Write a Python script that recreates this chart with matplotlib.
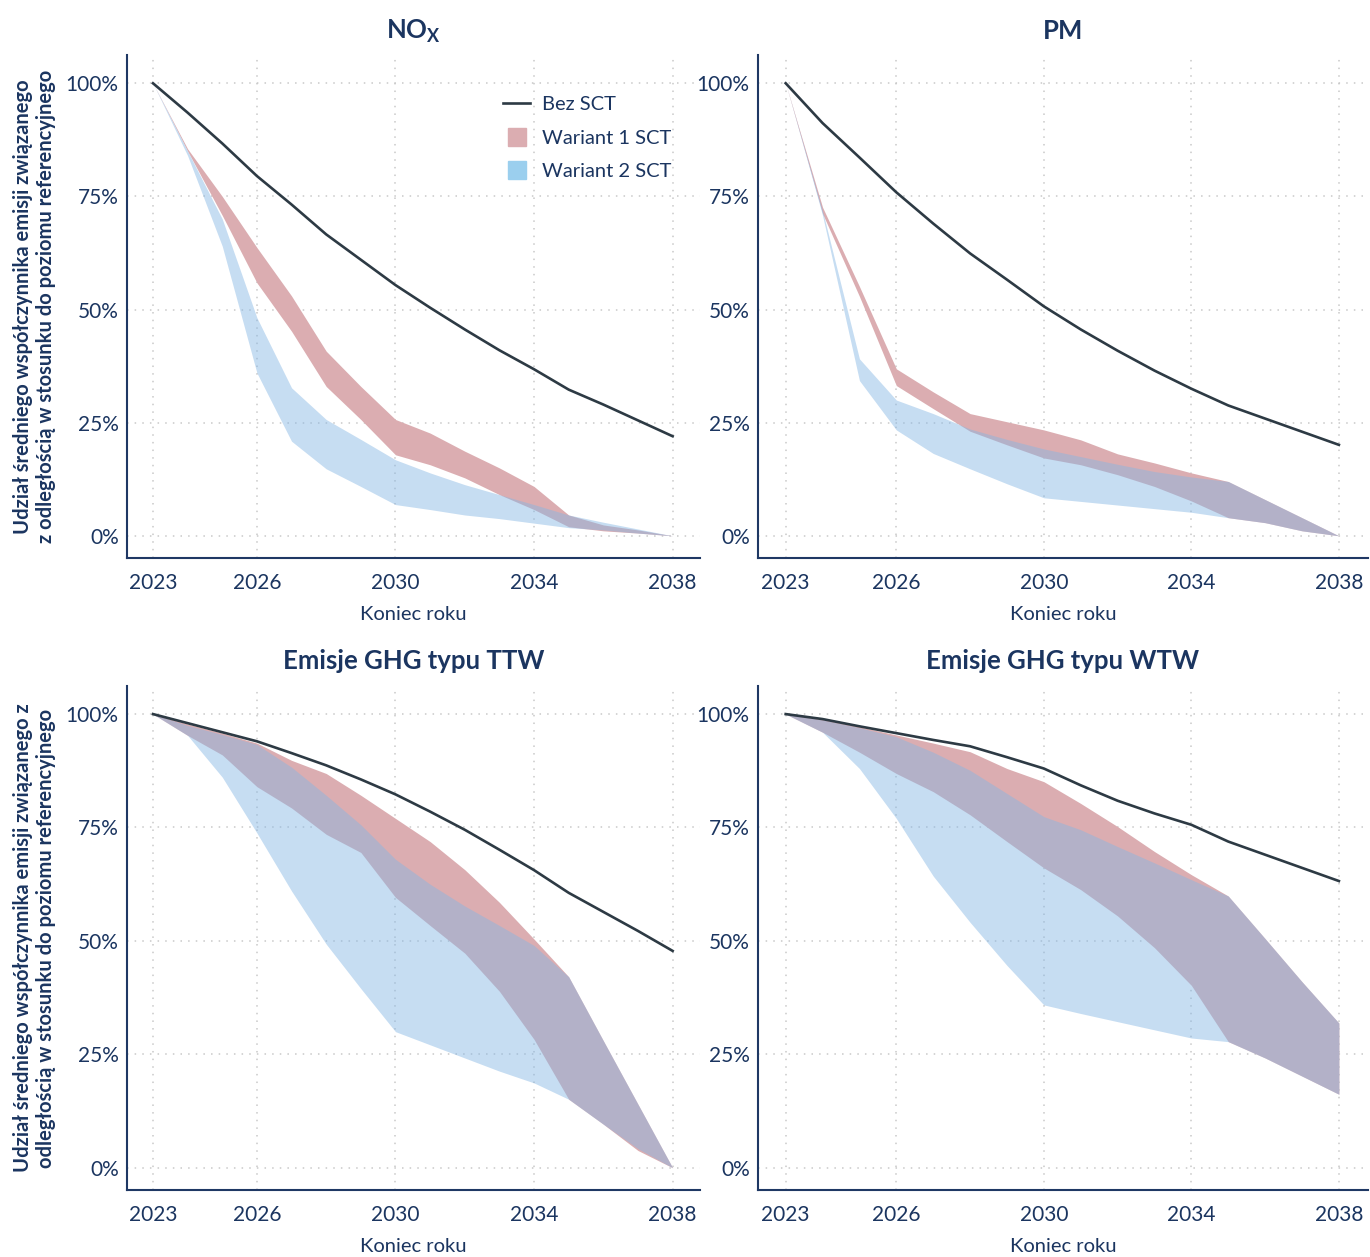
import numpy as np
import matplotlib
matplotlib.use('Agg')
import matplotlib.pyplot as plt
from matplotlib.lines import Line2D

plt.rcParams['font.family'] = ['Lato', 'DejaVu Sans']
plt.rcParams['mathtext.fontset'] = 'custom'
plt.rcParams['mathtext.rm'] = 'Lato'
plt.rcParams['mathtext.bf'] = 'Lato:bold'

years = np.arange(2023, 2039)

# NOx
nox_bez = [100, 93.5, 86.7, 79.5, 73.2, 66.6, 61, 55.4, 50.4, 45.6, 41, 36.8, 32.3, 29, 25.5, 22]
nox_w1_hi = [100, 85.5, 75, 63.7, 53, 40.8, 33, 25.7, 22.7, 18.7, 15, 10.9, 4.6, 2.4, 1.3, 0]
nox_w1_lo = [100, 85, 70.8, 55.9, 45.2, 33, 25.7, 17.9, 15.7, 12.8, 9.1, 5.8, 2, 1.1, 0.6, 0]
nox_w2_hi = [100, 85, 70, 48.2, 32.7, 25.7, 21.3, 16.8, 13.9, 11.3, 9.1, 6.9, 4.6, 3, 1.5, 0]
nox_w2_lo = [100, 84, 64, 36, 20.9, 14.8, 10.9, 6.9, 5.8, 4.6, 3.8, 2.8, 1.8, 1.3, 0.6, 0]

# PM
pm_bez = [100, 91.2, 83.6, 75.9, 69, 62.4, 56.6, 50.7, 45.6, 40.9, 36.5, 32.5, 28.8, 25.9, 23, 20.1]
pm_w1_hi = [100, 72.6, 55.1, 36.9, 31.8, 27, 25.2, 23.4, 21.2, 18.1, 16.1, 13.9, 12, 8, 4, 0]
pm_w1_lo = [100, 71.2, 52.9, 33.2, 28.1, 23.1, 20.1, 17.2, 15.7, 13.5, 10.9, 7.7, 4, 2.9, 1.1, 0]
pm_w2_hi = [100, 71.8, 39.1, 30, 27, 23.6, 21.3, 19.2, 17.5, 15.8, 14.2, 13, 12, 8, 4, 0]
pm_w2_lo = [100, 70.8, 34.3, 23.4, 18.2, 14.8, 11.5, 8.4, 7.6, 6.8, 6, 5.2, 4, 2.9, 1.1, 0]

# GHG TTW
ttw_bez = [100, 98, 96, 94, 91.4, 88.7, 85.6, 82.3, 78.5, 74.5, 70.1, 65.6, 60.6, 56.4, 52.2, 47.8]
ttw_w1_hi = [100, 97.8, 95.8, 93.6, 89.8, 86.9, 82.1, 77, 71.9, 65.7, 58.5, 50.4, 42.1, 28, 14, 0]
ttw_w1_lo = [100, 95.3, 91, 84, 79.3, 73.5, 69.5, 59.6, 53.4, 47.3, 38.9, 28.3, 15.1, 9.6, 3.8, 0]
ttw_w2_hi = [100, 97.5, 95.5, 93.3, 88.3, 82.1, 75.6, 68, 62.5, 57.7, 53.4, 49, 42.1, 28, 14, 0]
ttw_w2_lo = [100, 95.3, 86.1, 73.8, 61, 49.3, 39.5, 30, 27.1, 24.2, 21.3, 18.7, 15.1, 9.6, 4.2, 0]

# GHG WTW
wtw_bez = [100, 98.9, 97.3, 95.8, 94.3, 92.9, 90.5, 88, 84.3, 80.9, 78.1, 75.6, 71.9, 69, 66.1, 63.2]
wtw_w1_hi = [100, 98.8, 97.2, 95.4, 93.6, 91.7, 88, 85.1, 80.3, 75.2, 69.7, 64.6, 59.9, 50.5, 41, 31.9]
wtw_w1_lo = [100, 96, 91.6, 86.9, 82.9, 77.8, 71.9, 66.1, 61.3, 55.5, 48.5, 40.2, 27.8, 24.2, 20.2, 16.2]
wtw_w2_hi = [100, 98.7, 97, 95, 91.6, 87.6, 82.5, 77.4, 74.5, 70.8, 67.2, 63.5, 59.9, 50.5, 41, 31.9]
wtw_w2_lo = [100, 96, 88, 77, 64.3, 54.1, 44.6, 35.9, 34, 32.2, 30.4, 28.6, 27.8, 24.2, 20.2, 16.2]

titles = [r'NO$_\mathbf{X}$', 'PM', 'Emisje GHG typu TTW', 'Emisje GHG typu WTW']
panels = [
    (nox_bez, nox_w1_lo, nox_w1_hi, nox_w2_lo, nox_w2_hi),
    (pm_bez, pm_w1_lo, pm_w1_hi, pm_w2_lo, pm_w2_hi),
    (ttw_bez, ttw_w1_lo, ttw_w1_hi, ttw_w2_lo, ttw_w2_hi),
    (wtw_bez, wtw_w1_lo, wtw_w1_hi, wtw_w2_lo, wtw_w2_hi),
]
ylabels = ['Udział średniego współczynnika emisji związanego\nz odległością w stosunku do poziomu referencyjnego',
           None,
           'Udział średniego współczynnika emisji związanego z\nodległością w stosunku do poziomu referencyjnego',
           None]

navy = '#1b3560'
c_line = '#2d3a44'
c_red = '#dbadb1'
c_blue = '#86b7e4'

fig = plt.figure(figsize=(13.7, 12.57), dpi=100)
pos = [[0.0927, 0.5561, 0.418, 0.400], [0.5533, 0.5561, 0.445, 0.400],
       [0.0927, 0.0533, 0.418, 0.401], [0.5533, 0.0533, 0.445, 0.401]]

for i in range(4):
    ax = fig.add_axes(pos[i])
    bez, w1lo, w1hi, w2lo, w2hi = panels[i]
    ax.fill_between(years, w1lo, w1hi, color=c_red, lw=0, zorder=2)
    ax.fill_between(years, w2lo, w2hi, color=c_blue, alpha=0.47, lw=0, zorder=3)
    ax.plot(years, bez, color=c_line, lw=1.9, zorder=4)

    ax.set_xlim(2022.25, 2038.78)
    ax.set_ylim(-4.9, 106.2)
    ax.set_xticks([2023, 2026, 2030, 2034, 2038])
    ax.set_yticks([0, 25, 50, 75, 100])
    ax.set_yticklabels(['0%', '25%', '50%', '75%', '100%'])
    ax.tick_params(axis='both', length=0, labelsize=15, colors=navy)
    ax.tick_params(axis='x', pad=11)
    ax.tick_params(axis='y', pad=6)
    ax.grid(True, color='#c9c9c9', linestyle=(0, (1, 4)), lw=1.1)
    ax.set_axisbelow(True)
    for s in ['top', 'right']:
        ax.spines[s].set_visible(False)
    for s in ['left', 'bottom']:
        ax.spines[s].set_color('#1f3864')
        ax.spines[s].set_linewidth(1.5)

    ax.set_title(titles[i], fontsize=18.5, fontweight='bold', color=navy, pad=12)
    ax.set_xlabel('Koniec roku', fontsize=14.5, color=navy, labelpad=9)
    if ylabels[i]:
        ax.set_ylabel(ylabels[i], fontsize=14.5, fontweight='bold', color=navy, labelpad=7, linespacing=1.2)

    if i == 0:
        handles = [Line2D([], [], color=c_line, lw=1.9),
                   Line2D([], [], marker='s', ms=13, color=c_red, ls='none'),
                   Line2D([], [], marker='s', ms=13, color='#9bcfee', ls='none')]
        ax.legend(handles, ['Bez SCT', 'Wariant 1 SCT', 'Wariant 2 SCT'],
                  loc='upper left', bbox_to_anchor=(0.625, 0.955), frameon=False,
                  fontsize=14.5, labelcolor=navy, handlelength=1.35, handletextpad=0.6,
                  labelspacing=0.82)

fig.savefig('out.png', dpi=100)
